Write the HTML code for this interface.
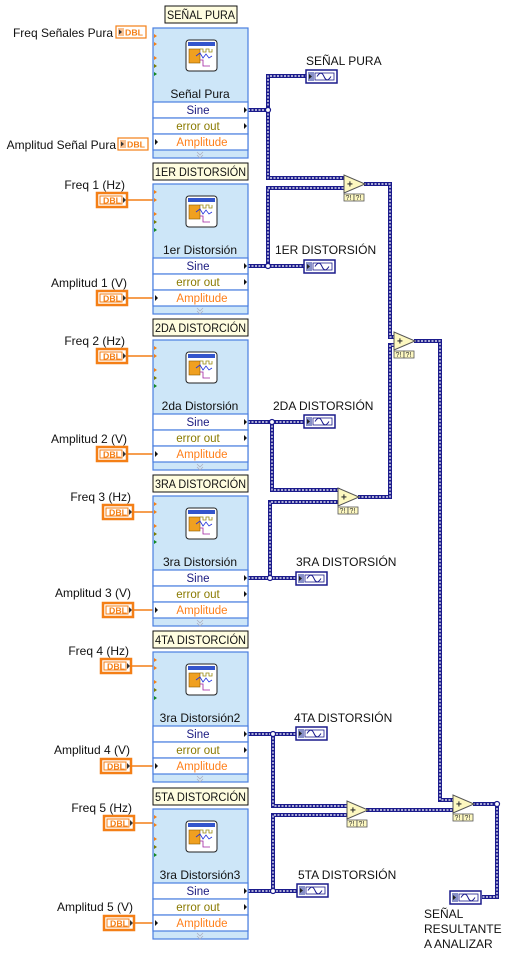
<!DOCTYPE html>
<html><head><meta charset="utf-8">
<style>
html,body{margin:0;padding:0;background:#fff;}
svg{display:block;font-family:"Liberation Sans",sans-serif;}
.w1{fill:none;stroke:#1b1b8c;stroke-width:4;}
.w2{fill:none;stroke:#fff;stroke-width:1.2;stroke-dasharray:2 1.5;}
.ow{fill:none;stroke:#f47f16;stroke-width:1.5;}
.t{font-size:12px;fill:#111;}
.tt{font-size:12px;fill:#111;}
.nm{font-size:12px;fill:#111;text-anchor:middle;}
.sine{font-size:11.5px;fill:#1a1a80;text-anchor:middle;}
.err{font-size:11.5px;fill:#8a7a00;text-anchor:middle;}
.amp{font-size:11.5px;fill:#ff7f1a;text-anchor:middle;}
.dbl{font-size:8px;font-weight:bold;fill:#f47f16;}
.q{font-size:7px;fill:#333;}
</style></head><body>
<svg width="508" height="954" viewBox="0 0 508 954" xmlns="http://www.w3.org/2000/svg">
<defs>
<g id="node">
  <rect x="153" y="0" width="95" height="130" fill="#cde6f8" stroke="#4a7fe0" stroke-width="1.2"/>
  <rect x="186" y="12" width="31" height="31" rx="3" fill="#fff" stroke="#222" stroke-width="1"/>
  <rect x="188" y="14" width="27" height="4" fill="#3355cc"/>
  <rect x="189" y="21" width="11" height="14" fill="#f0a020" stroke="#8a5a00" stroke-width="0.6"/>
  <polyline points="200,21 203,21 203,24 206,24 206,21 209,21 209,24 212,24 212,21" fill="none" stroke="#9a8a10" stroke-width="0.8"/>
  <polyline points="196,28 200,25 203,30 206,26 209,30 212,28" fill="none" stroke="#2233dd" stroke-width="0.8"/>
  <polyline points="200,32 203,32 203,38 210,38" fill="none" stroke="#a020a0" stroke-width="0.8"/>
  <polygon points="154,6 157,8 154,10" fill="#f47f16"/>
  <polygon points="154,14 157,16 154,18" fill="#f47f16"/>
  <polygon points="154,28 157,30 154,32" fill="#f47f16"/>
  <polygon points="154,36 157,38 154,40" fill="#7a7a00"/>
  <polygon points="154,44 157,46 154,48" fill="#118822"/>
  <rect x="153" y="74" width="95" height="16" fill="#fff" stroke="#4a7fe0" stroke-width="1.2"/>
  <rect x="153" y="90" width="95" height="16" fill="#fff" stroke="#4a7fe0" stroke-width="1.2"/>
  <rect x="153" y="106" width="95" height="16" fill="#fff" stroke="#4a7fe0" stroke-width="1.2"/>
  <polygon points="244,79 247,82 244,85" fill="#111"/>
  <polygon points="244,95 247,98 244,101" fill="#111"/>
  <polygon points="155,111 158,114 155,117" fill="#111"/>
  <polyline points="197,124 200,127 203,124" fill="none" stroke="#aab" stroke-width="0.7"/>
  <polyline points="197,127 200,130 203,127" fill="none" stroke="#aab" stroke-width="0.7"/>
</g>
<g id="dblr">
  <rect x="0" y="0" width="30" height="14" fill="#fff" stroke="#f47f16" stroke-width="2.5"/>
  <rect x="3" y="3" width="22" height="8" fill="#fff" stroke="#f47f16" stroke-width="1"/>
  <polygon points="26,4 29,7 26,10" fill="#333"/>
</g>
<g id="ind">
  <rect x="0" y="0" width="31" height="13" fill="#fff" stroke="#1b1b8c" stroke-width="1.5"/>
  <rect x="2" y="2" width="6" height="9" fill="#8890c8"/>
  <polygon points="3,4 6,6.5 3,9" fill="#222"/>
  <path d="M11,6.5 C14,2 16,2 18,6.5 C20,11 22,11 25,6.5" fill="none" stroke="#1b1b8c" stroke-width="1"/>
  <rect x="9" y="3" width="19" height="7" fill="none" stroke="#1b1b8c" stroke-width="0.8"/>
</g>
<g id="add">
  <polygon points="0,-9 0,9 21,0" fill="#fdf8c0" stroke="#555" stroke-width="1"/>
  <text x="3" y="3.5" font-size="10" font-weight="bold" fill="#333">+</text>
  <rect x="0" y="10" width="10" height="7" fill="#fdf8c0" stroke="#555" stroke-width="0.8"/>
  <rect x="10" y="10" width="10" height="7" fill="#fdf8c0" stroke="#555" stroke-width="0.8"/>
  <text x="1.5" y="16" class="q">?!</text><text x="11.5" y="16" class="q">?!</text>
</g>
</defs>

<path class="ow" d="M127 200H153 M127 298H153 M127 356H153 M127 454H153 M133 512H153 M133 610H153 M131 666H153 M131 766H153 M134 823H153 M134 923H153"/>

<g>
<path class="w1" d="M248 110H268V76H306 M268 110V178H346 M248 266H268V188H346 M268 266H304 M364 184H390V337H395 M358 497H390V345H395 M248 422H272H304 M272 422V490H340 M248 578H270H296 M270 578V502H340 M414 341H440V800H454 M248 734H273H296 M273 734V806H348 M248 891H273H297 M273 891V815H348 M366 810H454 M473 804H497V897H482"/>
<path class="w2" d="M248 110H268V76H306 M268 110V178H346 M248 266H268V188H346 M268 266H304 M364 184H390V337H395 M358 497H390V345H395 M248 422H272H304 M272 422V490H340 M248 578H270H296 M270 578V502H340 M414 341H440V800H454 M248 734H273H296 M273 734V806H348 M248 891H273H297 M273 891V815H348 M366 810H454 M473 804H497V897H482"/>
<g fill="#fff" stroke="#1b1b8c" stroke-width="1.2">
<circle cx="268" cy="110" r="2.5"/><circle cx="268" cy="266" r="2.5"/><circle cx="272" cy="422" r="2.5"/><circle cx="270" cy="578" r="2.5"/><circle cx="273" cy="734" r="2.5"/><circle cx="273" cy="891" r="2.5"/><circle cx="497" cy="804" r="2.5"/>
</g>
</g>

<g transform="translate(0,28)"><use href="#node"/></g>
<g transform="translate(0,184)"><use href="#node"/></g>
<g transform="translate(0,340)"><use href="#node"/></g>
<g transform="translate(0,496)"><use href="#node"/></g>
<g transform="translate(0,652)"><use href="#node"/></g>
<g transform="translate(0,809)"><use href="#node"/></g>

<text class="nm" x="200" y="98">Señal Pura</text>
<text class="nm" x="200" y="254">1er Distorsión</text>
<text class="nm" x="200" y="410">2da Distorsión</text>
<text class="nm" x="200" y="566">3ra Distorsión</text>
<text class="nm" x="200" y="722">3ra Distorsión2</text>
<text class="nm" x="200" y="879">3ra Distorsión3</text>

<g>
<text class="sine" x="198" y="114">Sine</text><text class="err" x="198" y="130">error out</text><text class="amp" x="202" y="146">Amplitude</text>
<text class="sine" x="198" y="270">Sine</text><text class="err" x="198" y="286">error out</text><text class="amp" x="202" y="302">Amplitude</text>
<text class="sine" x="198" y="426">Sine</text><text class="err" x="198" y="442">error out</text><text class="amp" x="202" y="458">Amplitude</text>
<text class="sine" x="198" y="582">Sine</text><text class="err" x="198" y="598">error out</text><text class="amp" x="202" y="614">Amplitude</text>
<text class="sine" x="198" y="738">Sine</text><text class="err" x="198" y="754">error out</text><text class="amp" x="202" y="770">Amplitude</text>
<text class="sine" x="198" y="895">Sine</text><text class="err" x="198" y="911">error out</text><text class="amp" x="202" y="927">Amplitude</text>
</g>

<g fill="#fffde0" stroke="#111" stroke-width="1">
<rect x="165" y="6" width="72" height="17"/>
<rect x="153" y="163" width="95" height="17"/>
<rect x="153" y="319" width="95" height="17"/>
<rect x="153" y="475" width="95" height="17"/>
<rect x="153" y="631" width="95" height="17"/>
<rect x="153" y="788" width="95" height="17"/>
</g>
<text class="tt" x="167" y="19" textLength="68" lengthAdjust="spacingAndGlyphs">SEÑAL PURA</text>
<text class="tt" x="155" y="176" textLength="91" lengthAdjust="spacingAndGlyphs">1ER DISTORSIÓN</text>
<text class="tt" x="155" y="332" textLength="91" lengthAdjust="spacingAndGlyphs">2DA DISTORCIÓN</text>
<text class="tt" x="155" y="488" textLength="91" lengthAdjust="spacingAndGlyphs">3RA DISTORCIÓN</text>
<text class="tt" x="155" y="644" textLength="91" lengthAdjust="spacingAndGlyphs">4TA DISTORCIÓN</text>
<text class="tt" x="155" y="801" textLength="91" lengthAdjust="spacingAndGlyphs">5TA DISTORCIÓN</text>

<g transform="translate(116,26)">
  <rect x="0" y="0" width="30" height="12" fill="#fff" stroke="#f47f16" stroke-width="1.2"/>
  <rect x="2" y="2" width="6" height="8" fill="#f8c090"/><polygon points="3,3.5 6,6 3,8.5" fill="#333"/>
  <text x="9" y="9.5" class="dbl" textLength="18" lengthAdjust="spacingAndGlyphs">DBL</text>
</g>
<g transform="translate(118,138)">
  <rect x="0" y="0" width="30" height="12" fill="#fff" stroke="#f47f16" stroke-width="1.2"/>
  <rect x="2" y="2" width="6" height="8" fill="#f8c090"/><polygon points="3,3.5 6,6 3,8.5" fill="#333"/>
  <text x="9" y="9.5" class="dbl" textLength="18" lengthAdjust="spacingAndGlyphs">DBL</text>
</g>
<text class="t" x="113" y="37" text-anchor="end">Freq Señales Pura</text>
<text class="t" x="116" y="149" text-anchor="end">Amplitud Señal Pura</text>

<g transform="translate(97,193)"><use href="#dblr"/><text x="6" y="10.5" class="dbl" textLength="18" lengthAdjust="spacingAndGlyphs">DBL</text></g>
<g transform="translate(97,291)"><use href="#dblr"/><text x="6" y="10.5" class="dbl" textLength="18" lengthAdjust="spacingAndGlyphs">DBL</text></g>
<g transform="translate(97,349)"><use href="#dblr"/><text x="6" y="10.5" class="dbl" textLength="18" lengthAdjust="spacingAndGlyphs">DBL</text></g>
<g transform="translate(97,447)"><use href="#dblr"/><text x="6" y="10.5" class="dbl" textLength="18" lengthAdjust="spacingAndGlyphs">DBL</text></g>
<g transform="translate(103,505)"><use href="#dblr"/><text x="6" y="10.5" class="dbl" textLength="18" lengthAdjust="spacingAndGlyphs">DBL</text></g>
<g transform="translate(103,603)"><use href="#dblr"/><text x="6" y="10.5" class="dbl" textLength="18" lengthAdjust="spacingAndGlyphs">DBL</text></g>
<g transform="translate(101,659)"><use href="#dblr"/><text x="6" y="10.5" class="dbl" textLength="18" lengthAdjust="spacingAndGlyphs">DBL</text></g>
<g transform="translate(101,759)"><use href="#dblr"/><text x="6" y="10.5" class="dbl" textLength="18" lengthAdjust="spacingAndGlyphs">DBL</text></g>
<g transform="translate(104,816)"><use href="#dblr"/><text x="6" y="10.5" class="dbl" textLength="18" lengthAdjust="spacingAndGlyphs">DBL</text></g>
<g transform="translate(104,916)"><use href="#dblr"/><text x="6" y="10.5" class="dbl" textLength="18" lengthAdjust="spacingAndGlyphs">DBL</text></g>

<text class="t" x="125" y="189" text-anchor="end">Freq 1 (Hz)</text>
<text class="t" x="127" y="287" text-anchor="end">Amplitud 1 (V)</text>
<text class="t" x="125" y="345" text-anchor="end">Freq 2 (Hz)</text>
<text class="t" x="127" y="443" text-anchor="end">Amplitud 2 (V)</text>
<text class="t" x="131" y="501" text-anchor="end">Freq 3 (Hz)</text>
<text class="t" x="131" y="597" text-anchor="end">Amplitud 3 (V)</text>
<text class="t" x="129" y="655" text-anchor="end">Freq 4 (Hz)</text>
<text class="t" x="130" y="754" text-anchor="end">Amplitud 4 (V)</text>
<text class="t" x="132" y="812" text-anchor="end">Freq 5 (Hz)</text>
<text class="t" x="133" y="911" text-anchor="end">Amplitud 5 (V)</text>

<g transform="translate(306,70)"><use href="#ind"/></g>
<g transform="translate(304,260)"><use href="#ind"/></g>
<g transform="translate(304,415)"><use href="#ind"/></g>
<g transform="translate(296,572)"><use href="#ind"/></g>
<g transform="translate(296,727)"><use href="#ind"/></g>
<g transform="translate(297,884)"><use href="#ind"/></g>
<g transform="translate(450,891)"><use href="#ind"/></g>
<text class="t" x="306" y="65">SEÑAL PURA</text>
<text class="t" x="275" y="254">1ER DISTORSIÓN</text>
<text class="t" x="273" y="410">2DA DISTORSIÓN</text>
<text class="t" x="296" y="566">3RA DISTORSIÓN</text>
<text class="t" x="294" y="722">4TA DISTORSIÓN</text>
<text class="t" x="298" y="879">5TA DISTORSIÓN</text>
<text class="t" x="424" y="918">SEÑAL</text>
<text class="t" x="424" y="933">RESULTANTE</text>
<text class="t" x="424" y="948">A ANALIZAR</text>

<g transform="translate(344,184)"><use href="#add"/></g>
<g transform="translate(394,341)"><use href="#add"/></g>
<g transform="translate(338,497)"><use href="#add"/></g>
<g transform="translate(347,810)"><use href="#add"/></g>
<g transform="translate(453,804)"><use href="#add"/></g>
</svg>
</body></html>
